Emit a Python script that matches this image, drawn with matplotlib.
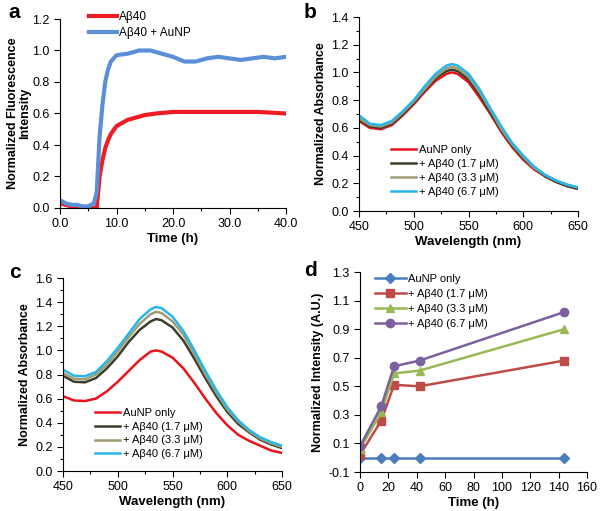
import matplotlib
matplotlib.use("Agg")
import matplotlib.pyplot as plt
from matplotlib.ticker import MultipleLocator, FormatStrFormatter

plt.rcParams['font.family'] = ['Liberation Sans', 'DejaVu Sans']
plt.rcParams['font.size'] = 8.5

# --- panel a : ThT kinetics ---
t_a = [0, 1, 2, 3, 4, 5, 6, 6.5, 7, 7.5, 8, 8.5, 9, 10, 11, 12, 13, 14, 15, 17,
       20, 22, 25, 30, 35, 40]
ab40 = [0.03, 0.02, 0.01, 0.0, 0.0, 0.0, 0.0, 0.0, 0.2, 0.3, 0.38, 0.43, 0.47, 0.52,
        0.54, 0.56, 0.57, 0.58, 0.59, 0.60, 0.61, 0.61, 0.61, 0.61, 0.61, 0.60]
t_b = [0, 1, 2, 3, 4, 5, 6, 6.5, 7, 7.5, 8, 8.5, 9, 10, 12, 14, 16, 18, 20, 22,
       24, 26, 28, 30, 32, 34, 36, 38, 40]
ab40_aunp = [0.05, 0.03, 0.02, 0.02, 0.01, 0.01, 0.03, 0.1, 0.45, 0.65, 0.8, 0.88,
             0.93, 0.97, 0.98, 1.0, 1.0, 0.98, 0.96, 0.93, 0.93, 0.95, 0.96, 0.95,
             0.94, 0.95, 0.96, 0.95, 0.96]

# --- panels b, c : absorbance spectra ---
wl = [450, 460, 470, 480, 490, 500, 510, 520, 530, 535, 540, 550, 560, 570, 580,
      590, 600, 610, 620, 630, 640, 650]
b_aunp = [0.65, 0.60, 0.59, 0.62, 0.69, 0.77, 0.86, 0.94, 0.99, 1.0, 0.99, 0.93,
          0.82, 0.70, 0.57, 0.46, 0.37, 0.30, 0.25, 0.21, 0.18, 0.16]
b_17 = [0.66, 0.61, 0.60, 0.63, 0.70, 0.78, 0.87, 0.96, 1.01, 1.02, 1.01, 0.95,
        0.84, 0.71, 0.58, 0.47, 0.38, 0.31, 0.25, 0.21, 0.18, 0.16]
b_33 = [0.67, 0.62, 0.61, 0.64, 0.71, 0.79, 0.88, 0.97, 1.03, 1.04, 1.03, 0.97,
        0.86, 0.73, 0.59, 0.48, 0.39, 0.31, 0.26, 0.22, 0.19, 0.17]
b_67 = [0.69, 0.63, 0.62, 0.65, 0.72, 0.80, 0.90, 0.99, 1.05, 1.06, 1.05, 0.99,
        0.88, 0.74, 0.61, 0.49, 0.40, 0.32, 0.26, 0.22, 0.19, 0.17]

c_aunp = [0.62, 0.585, 0.58, 0.60, 0.66, 0.74, 0.83, 0.92, 0.99, 1.0, 0.99, 0.94,
          0.85, 0.73, 0.60, 0.48, 0.38, 0.30, 0.25, 0.21, 0.17, 0.15]
c_17 = [0.79, 0.74, 0.735, 0.77, 0.85, 0.95, 1.07, 1.17, 1.24, 1.26, 1.25, 1.19,
        1.08, 0.93, 0.77, 0.62, 0.49, 0.39, 0.32, 0.26, 0.22, 0.19]
c_33 = [0.81, 0.765, 0.76, 0.80, 0.88, 0.99, 1.11, 1.22, 1.30, 1.32, 1.31, 1.24,
        1.13, 0.97, 0.80, 0.65, 0.51, 0.41, 0.33, 0.27, 0.23, 0.20]
c_67 = [0.84, 0.79, 0.785, 0.82, 0.91, 1.02, 1.14, 1.26, 1.34, 1.36, 1.35, 1.28,
        1.16, 1.00, 0.83, 0.67, 0.53, 0.42, 0.34, 0.28, 0.24, 0.21]

# --- panel d : intensity vs time ---
t_d = [0, 15, 24, 42, 144]
d_aunp = [0.0, 0.0, 0.0, 0.0, 0.0]
d_17 = [0.02, 0.26, 0.51, 0.50, 0.68]
d_33 = [0.06, 0.32, 0.59, 0.61, 0.90]
d_67 = [0.08, 0.36, 0.64, 0.68, 1.02]
d_yticks = [-0.1, 0.1, 0.3, 0.5, 0.7, 0.9, 1.1, 1.3]

spec_labels = ['AuNP only', '+ Aβ40 (1.7 μM)', '+ Aβ40 (3.3 μM)', '+ Aβ40 (6.7 μM)']
spec_colors = ['#e8141c', '#3d3d2c', '#a09c72', '#27b6ea']

W, H = 600, 511
fig = plt.figure(figsize=(W / 100, H / 100), dpi=100)


def box(l, r, t, b):
    return [l / W, (H - b) / H, (r - l) / W, (b - t) / H]


def style(ax):
    for s in ['top', 'right']:
        ax.spines[s].set_visible(False)
    ax.tick_params(which='major', direction='out', length=4, width=0.8, labelsize=9)
    ax.tick_params(which='minor', direction='out', length=2.5, width=0.8)


# panel a
ax = fig.add_axes(box(60, 286, 19, 208))
ax.plot(t_a, ab40, color='#ee1c25', lw=3, label='Aβ40')
ax.plot(t_b, ab40_aunp, color='#5b8fd8', lw=3, label='Aβ40 + AuNP')
ax.set_xlim(0, 40)
ax.set_ylim(0, 1.2)
ax.xaxis.set_major_locator(MultipleLocator(10))
ax.xaxis.set_minor_locator(MultipleLocator(5))
ax.xaxis.set_major_formatter(FormatStrFormatter('%.1f'))
ax.yaxis.set_major_locator(MultipleLocator(0.2))
ax.yaxis.set_major_formatter(FormatStrFormatter('%.1f'))
ax.set_xlabel('Time (h)', fontweight='bold', fontsize=9.5, labelpad=2)
ax.set_ylabel('Normalized Fluorescence\nIntensity', fontweight='bold', fontsize=9,
              labelpad=1, linespacing=1.0)
style(ax)
ax.legend(loc='upper left', bbox_to_anchor=(0.08, 1.1), frameon=False,
          handlelength=2.4, handletextpad=0.2, labelspacing=0.4, fontsize=8.5)
fig.text(8 / W, 1 - 13 / H, 'a', fontsize=15, fontweight='bold', va='center')

# panel b and c
for pos, ys, lim, letter, lx, ly, leg_anchor in [
        (box(359, 578, 17, 211), [b_aunp, b_17, b_33, b_67], 1.4, 'b', 304, 12, (0.1, 0.39)),
        (box(63, 282, 278, 471), [c_aunp, c_17, c_33, c_67], 1.6, 'c', 9, 272, (0.1, 0.38))]:
    ax = fig.add_axes(pos)
    for y, lab, col in zip(ys, spec_labels, spec_colors):
        ax.plot(wl, y, color=col, lw=1.8, label=lab)
    ax.set_xlim(450, 650)
    ax.set_ylim(0, lim)
    ax.xaxis.set_major_locator(MultipleLocator(50))
    ax.xaxis.set_minor_locator(MultipleLocator(25))
    ax.yaxis.set_major_locator(MultipleLocator(0.2))
    ax.yaxis.set_minor_locator(MultipleLocator(0.1))
    ax.yaxis.set_major_formatter(FormatStrFormatter('%.1f'))
    ax.set_xlabel('Wavelength (nm)', fontweight='bold', fontsize=9.5, labelpad=2)
    ax.set_ylabel('Normalized Absorbance', fontweight='bold', fontsize=9, labelpad=3)
    style(ax)
    ax.legend(loc='upper left', bbox_to_anchor=leg_anchor, frameon=False,
              handlelength=2.3, handletextpad=0.2, labelspacing=0.35, fontsize=8)
    fig.text(lx / W, 1 - ly / H, letter, fontsize=15, fontweight='bold', va='center')

# panel d
ax = fig.add_axes(box(360, 587, 272, 472))
ax.plot(t_d, d_aunp, color='#4a7ebb', marker='D', ms=5, lw=1.8, label='AuNP only')
ax.plot(t_d, d_17, color='#be4b48', marker='s', ms=6, lw=1.8, label='+ Aβ40 (1.7 μM)')
ax.plot(t_d, d_33, color='#98b954', marker='^', ms=6, lw=1.8, label='+ Aβ40 (3.3 μM)')
ax.plot(t_d, d_67, color='#7d60a0', marker='o', ms=6, lw=1.8, label='+ Aβ40 (6.7 μM)')
ax.set_xlim(0, 160)
ax.set_ylim(-0.1, 1.3)
ax.xaxis.set_major_locator(MultipleLocator(20))
ax.set_yticks(d_yticks)
ax.yaxis.set_major_formatter(FormatStrFormatter('%.1f'))
ax.set_xlabel('Time (h)', fontweight='bold', fontsize=9.5, labelpad=2)
ax.set_ylabel('Normalized Intensity (A.U.)', fontweight='bold', fontsize=9, labelpad=3)
style(ax)
ax.legend(loc='upper left', bbox_to_anchor=(0.02, 1.04), frameon=False,
          handlelength=2.8, handletextpad=0.2, labelspacing=0.45, fontsize=8)
fig.text(304 / W, 1 - 270 / H, 'd', fontsize=15, fontweight='bold', va='center')

fig.savefig('out.png', dpi=100)
